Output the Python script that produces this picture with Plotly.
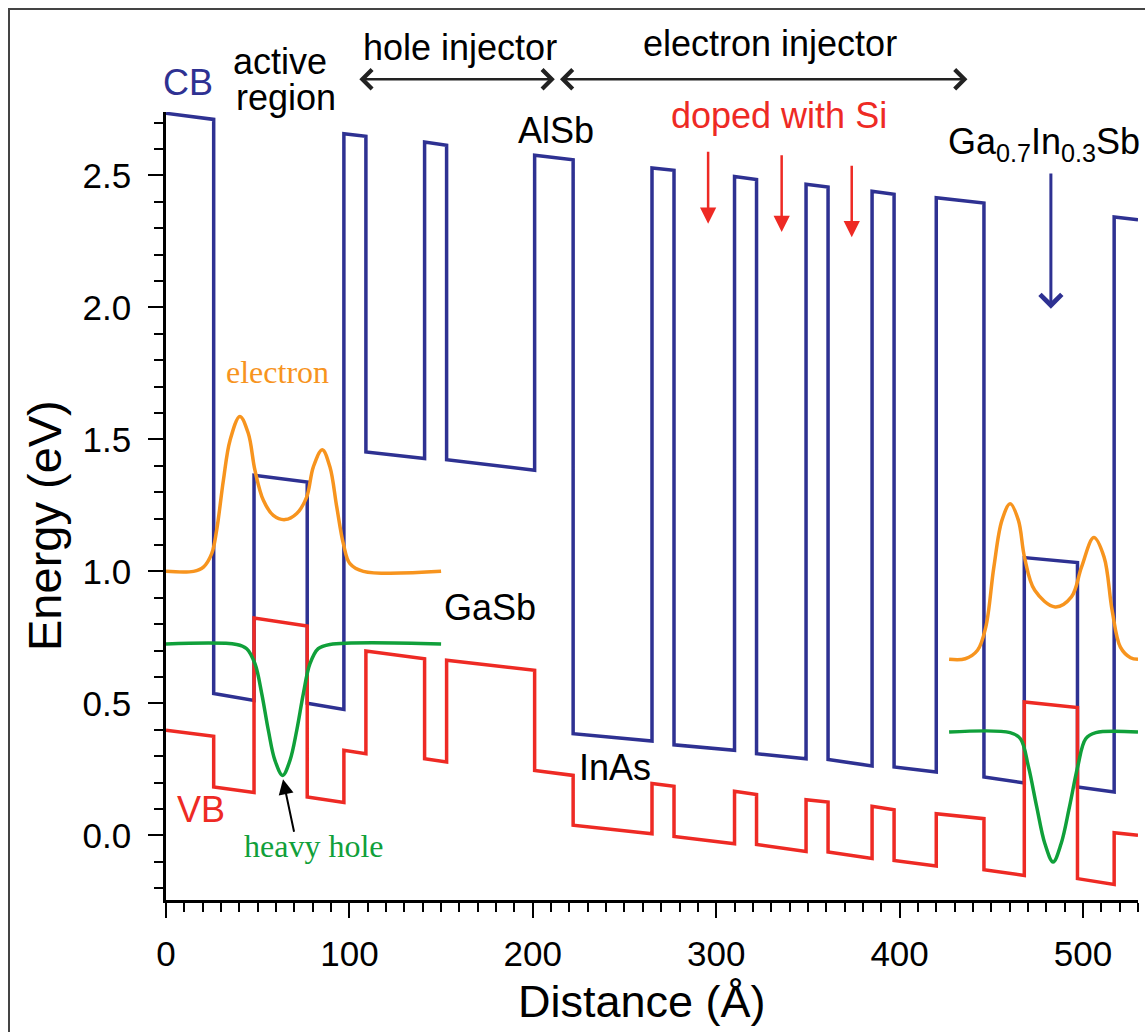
import plotly.graph_objects as go

# ---------------- data ----------------
# layer boundaries along the growth direction (Angstrom)
layer_edges = [0, 26, 48, 77, 97, 109, 141, 153, 201, 222, 265, 277, 310, 322,
               349, 361, 385, 397, 420, 446, 468, 497, 517, 530]

# conduction band edge at the left / right side of each layer (eV)
cb_left = [2.735, 0.537, 1.364, 0.500, 2.658, 1.452, 2.626, 1.423, 2.576, 0.385,
           2.528, 0.343, 2.496, 0.309, 2.466, 0.287, 2.440, 0.259, 2.415, 0.221,
           1.052, 0.183, 2.342]
cb_right = [2.712, 0.511, 1.338, 0.477, 2.648, 1.427, 2.614, 1.383, 2.559, 0.357,
            2.519, 0.322, 2.484, 0.290, 2.456, 0.263, 2.428, 0.240, 2.395, 0.198,
            1.033, 0.164, 2.332]

# valence band edge at the left / right side of each layer (eV)
vb_left = [0.398, 0.183, 0.823, 0.145, 0.322, 0.698, 0.290, 0.663, 0.246, 0.038,
           0.196, -0.004, 0.167, -0.035, 0.135, -0.063, 0.110, -0.095, 0.082, -0.130,
           0.505, -0.164, 0.010]
vb_right = [0.375, 0.162, 0.793, 0.124, 0.309, 0.669, 0.278, 0.625, 0.227, 0.006,
            0.186, -0.032, 0.155, -0.061, 0.126, -0.088, 0.097, -0.116, 0.063, -0.152,
            0.484, -0.186, 0.000]

# electron probability densities (offset to their levels)
elec1_x = [0, 15, 20.4, 24.9, 27.6, 31.3, 34.9, 40.3, 44.9, 48.5, 53.1, 58.5, 64.9,
           71.3, 76.7, 80.3, 85.2, 89.4, 93.1, 96.7, 100.3, 107.6, 150]
elec1_y = [1.0, 1.0, 1.016, 1.067, 1.155, 1.345, 1.496, 1.587, 1.522, 1.383, 1.269,
           1.212, 1.196, 1.219, 1.281, 1.395, 1.461, 1.395, 1.244, 1.105, 1.029, 1.0, 1.0]
elec2_x = [427, 435.8, 442.5, 447, 451.4, 455.8, 460.3, 464.8, 468.1, 473.7, 484.8,
           493.7, 499.2, 505.9, 511.5, 515.9, 520.4, 525.9, 530]
elec2_y = [0.667, 0.669, 0.701, 0.789, 1.016, 1.193, 1.256, 1.193, 1.054, 0.928, 0.865,
           0.903, 1.016, 1.128, 1.054, 0.852, 0.713, 0.673, 0.667]

# heavy-hole probability densities
hole1_x = [0, 38.5, 44, 48.5, 52.2, 55.8, 59.4, 63.6, 67.6, 71.3, 74.9, 78.5, 83, 89.4, 150]
hole1_y = [0.725, 0.723, 0.707, 0.650, 0.537, 0.398, 0.284, 0.227, 0.284, 0.398, 0.537,
           0.650, 0.707, 0.723, 0.725]
hole2_x = [427, 460.3, 465.9, 470.3, 474.8, 479.2, 483.7, 488.1, 492.6, 497.1, 501.5, 507, 530]
hole2_y = [0.391, 0.389, 0.366, 0.259, 0.107, -0.031, -0.101, -0.031, 0.107, 0.259,
           0.366, 0.389, 0.391]

x_ticks = [0, 100, 200, 300, 400, 500]
y_ticks = [0.0, 0.5, 1.0, 1.5, 2.0, 2.5]

X_RANGE = [0, 530]
Y_RANGE = [-0.245, 2.74]

# ---------------- colours / fonts ----------------
BLUE = "#2E3192"
RED = "#EE2A24"
ORANGE = "#F7941E"
GREEN = "#10A03A"
SANS = "Arial, Liberation Sans, sans-serif"
SERIF = "Times New Roman, Liberation Serif, serif"


def band_path(left, right):
    xs, ys = [], []
    for i in range(len(left)):
        xs += [layer_edges[i], layer_edges[i + 1]]
        ys += [left[i], right[i]]
    return xs, ys


def to_dom(e):
    """energy value -> y-domain fraction (for labels above the plotting area)"""
    return (e - Y_RANGE[0]) / (Y_RANGE[1] - Y_RANGE[0])


fig = go.Figure()
cbx, cby = band_path(cb_left, cb_right)
vbx, vby = band_path(vb_left, vb_right)
fig.add_trace(go.Scatter(x=cbx, y=cby, mode="lines", name="CB",
                         line=dict(color=BLUE, width=3.5)))
fig.add_trace(go.Scatter(x=vbx, y=vby, mode="lines", name="VB",
                         line=dict(color=RED, width=3.5)))
for xs, ys, col, nm in [(elec1_x, elec1_y, ORANGE, "electron"),
                        (elec2_x, elec2_y, ORANGE, "electron"),
                        (hole1_x, hole1_y, GREEN, "heavy hole"),
                        (hole2_x, hole2_y, GREEN, "heavy hole")]:
    fig.add_trace(go.Scatter(x=xs, y=ys, mode="lines", name=nm,
                             line=dict(color=col, width=3.5, shape="spline", smoothing=1.0)))

ann = []


def label(text, x, y, color="black", size=36, family=SANS, top=False):
    ann.append(dict(text=text, x=x, y=to_dom(y) if top else y, xref="x",
                    yref="y domain" if top else "y", showarrow=False,
                    xanchor="center", yanchor="middle",
                    font=dict(color=color, size=size, family=family)))


def arrow(x, y, ax, ay, color, width, head, size, both=False, top=False):
    yref = "y domain" if top else "y"
    d = dict(text="", x=x, y=to_dom(y) if top else y, ax=ax,
             ay=to_dom(ay) if top else ay, xref="x", yref=yref, axref="x", ayref=yref,
             showarrow=True, arrowcolor=color, arrowwidth=width, arrowhead=head,
             arrowsize=size)
    if both:
        d.update(arrowside="end+start", startarrowhead=head, startarrowsize=size)
    ann.append(d)


label("CB", 12, 2.852, BLUE, top=True)
label("active", 62, 2.93, top=True)
label("region", 65.4, 2.795, top=True)
label("hole injector", 160.3, 2.985, top=True)
label("electron injector", 329.3, 3.0, top=True)
label("AlSb", 212.7, 2.67)
label("doped with Si", 334, 2.727, RED)
label("Ga<sub>0.7</sub>In<sub>0.3</sub>Sb", 478.7, 2.62)
label("electron", 61, 1.757, ORANGE, 32, SERIF)
label("GaSb", 176.9, 0.864)
label("InAs", 244.8, 0.258)
label("VB", 19, 0.098, RED)
label("heavy hole", 80.7, -0.042, GREEN, 32, SERIF)

# injector spans (double arrows)
arrow(212, 2.864, 104.6, 2.864, "#222222", 2.5, 4, 1.5, both=True, top=True)
arrow(437, 2.864, 214, 2.864, "#222222", 2.5, 4, 1.5, both=True, top=True)
# doping arrows
arrow(295.6, 2.317, 295.6, 2.595, RED, 2.5, 2, 1.3)
arrow(335.7, 2.285, 335.7, 2.582, RED, 2.5, 2, 1.3)
arrow(373.9, 2.266, 373.9, 2.542, RED, 2.5, 2, 1.3)
# GaInSb arrow
arrow(482.5, 1.995, 482.5, 2.513, BLUE, 3, 4, 1.4)
# heavy hole arrow
arrow(63.8, 0.212, 70.0, 0.008, "black", 2, 2, 1.5)

# axis titles
W, H = 1145, 1032
ML, MR, MT, MB = 166, 7, 112, 132
PW, PH = W - ML - MR, H - MT - MB
ann.append(dict(text="Distance (Å)", xref="paper", yref="paper",
                x=(642 - ML) / PW, y=-(1001 - (H - MB)) / PH, showarrow=False,
                xanchor="center", yanchor="middle", font=dict(size=45, family=SANS, color="black")))
ann.append(dict(text="Energy (eV)", xref="paper", yref="paper",
                x=(44 - ML) / PW, y=((H - MB) - 525) / PH, showarrow=False, textangle=-90,
                xanchor="center", yanchor="middle", font=dict(size=47, family=SANS, color="black")))

axis_common = dict(showline=True, linecolor="black", linewidth=2.5, ticks="outside",
                   ticklen=15, tickwidth=2, tickcolor="black", showgrid=False, zeroline=False,
                   tickfont=dict(size=35, family=SANS, color="black"))

fig.update_layout(
    width=W, height=H,
    margin=dict(l=ML, r=MR, t=MT, b=MB),
    paper_bgcolor="white", plot_bgcolor="white",
    showlegend=False,
    annotations=ann,
    shapes=[dict(type="rect", xref="paper", yref="paper",
                 x0=(9 - ML) / PW, x1=(1160 - ML) / PW,
                 y0=-(1045 - (H - MB)) / PH, y1=1 + (MT - 9) / PH,
                 line=dict(color="#444444", width=2))],
    xaxis=dict(range=X_RANGE, tickvals=x_ticks, ticklabelstandoff=6,
               minor=dict(dtick=10, tick0=0, ticklen=9, tickwidth=2, tickcolor="black", ticks="outside"),
               **axis_common),
    yaxis=dict(range=Y_RANGE, tickvals=y_ticks, tickformat=".1f", ticklabelstandoff=10,
               minor=dict(dtick=0.1, tick0=0, ticklen=9, tickwidth=2, tickcolor="black", ticks="outside"),
               **axis_common),
)

fig.write_html("out.html", config={"displayModeBar": False},
               post_script="document.body.style.margin='0';document.body.style.overflow='hidden';")
